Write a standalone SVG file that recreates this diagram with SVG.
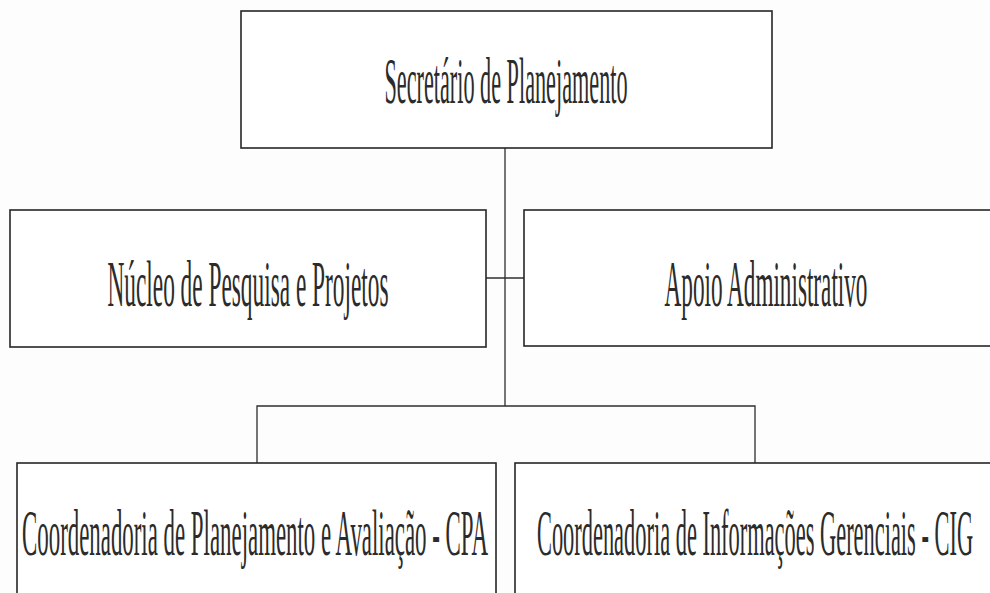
<svg xmlns="http://www.w3.org/2000/svg" width="990" height="593" viewBox="0 0 990 593">
  <style>
    .box { fill: #ffffff; stroke: #262626; stroke-width: 1.6; }
    .conn { fill: none; stroke: #2e2e2e; stroke-width: 1.3; }
    .lbl { font-family: "Liberation Serif", "Times New Roman", serif; font-size: 66px; fill: #2b2b2b; text-anchor: middle; }
  </style>
  <rect x="0" y="0" width="990" height="593" fill="#fdfdfd"/>
  <g id="connectors">
    <line class="conn" x1="505" y1="148" x2="505" y2="406"/>
    <line class="conn" x1="486" y1="278" x2="524" y2="278"/>
    <path class="conn" d="M257,463 V406 H755 V463"/>
  </g>
  <g id="n-secretario">
    <rect class="box" x="241" y="11" width="531" height="137"/>
    <text class="lbl" transform="translate(506,103) scale(0.3366,1)" x="0" y="0" textLength="722" lengthAdjust="spacingAndGlyphs">Secretário de Planejamento</text>
  </g>
  <g id="n-nucleo">
    <rect class="box" x="10" y="210" width="476" height="137"/>
    <text class="lbl" transform="translate(248,306) scale(0.3532,1)" x="0" y="0" textLength="796" lengthAdjust="spacingAndGlyphs">Núcleo de Pesquisa e Projetos</text>
  </g>
  <g id="n-apoio">
    <rect class="box" x="524" y="210" width="486" height="136"/>
    <text class="lbl" transform="translate(766,306) scale(0.3493,1)" x="0" y="0" textLength="581" lengthAdjust="spacingAndGlyphs">Apoio Administrativo</text>
  </g>
  <g id="n-cpa">
    <rect class="box" x="17" y="463" width="479" height="145"/>
    <text class="lbl" transform="translate(255,555) scale(0.3426,1)" x="0" y="0" textLength="1360" lengthAdjust="spacingAndGlyphs">Coordenadoria de Planejamento e Avaliação - CPA</text>
  </g>
  <g id="n-cig">
    <rect class="box" x="515" y="463" width="485" height="145"/>
    <text class="lbl" transform="translate(755,555) scale(0.3394,1)" x="0" y="0" textLength="1285" lengthAdjust="spacingAndGlyphs">Coordenadoria de Informações Gerenciais - CIG</text>
  </g>
</svg>
